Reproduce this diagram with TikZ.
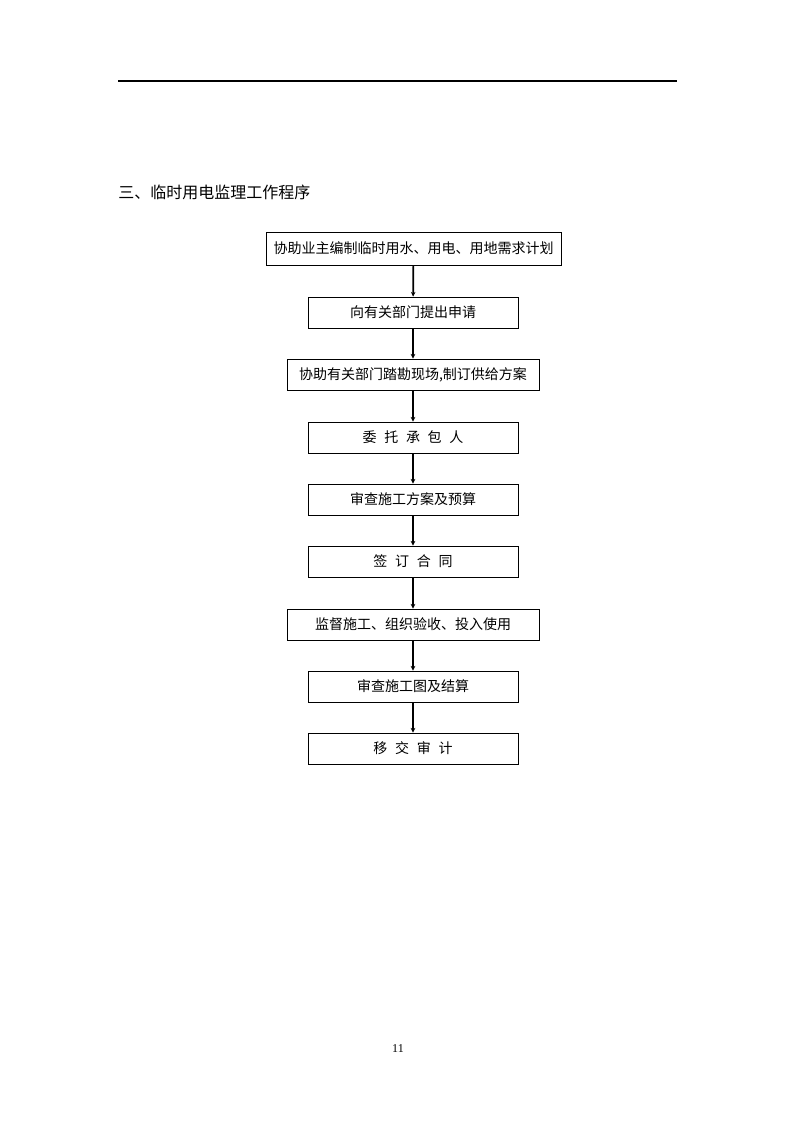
\documentclass[tikz,border=0pt]{standalone}
\usepackage{fontspec}
\setmainfont{Liberation Serif}
\newfontfamily\cjk{Noto Sans CJK SC}
\usetikzlibrary{arrows.meta, positioning}
\tikzset{
  stepbox/.style={draw, line width=0.7pt, rectangle, minimum width=157.5pt, minimum height=23.25pt, inner sep=0pt,
    font={\cjk\fontsize{10.5}{12}\selectfont\spaceskip=.55em\relax}},
  widebox/.style={stepbox, minimum width=189pt},
  flow/.style={-{Stealth[length=3.5pt, width=3.5pt]}, line width=1.3pt}
}

\begin{document}
\begin{tikzpicture}[x=0.75pt, y=-0.75pt]
  \useasboundingbox (0,0) rectangle (794,1123);
  % header rule and title
  \draw[line width=0.8pt] (118,81) -- (677,81);
  \node[anchor=west, inner sep=0pt, font={\cjk\fontsize{12}{14}\selectfont}] (title) at (118,192) {三、临时用电监理工作程序};

  % flow chart
  \node[stepbox, minimum width=221.25pt, minimum height=24.75pt] (plan) at (413.5,248.5) {协助业主编制临时用水、用电、用地需求计划};
  \node[stepbox] (apply) at (413,312.5) {向有关部门提出申请};
  \node[widebox] (survey) at (413,374.5) {协助有关部门踏勘现场,制订供给方案};
  \node[stepbox] (entrust) at (413,437.5) {委 托 承 包 人};
  \node[stepbox] (review) at (413,499.5) {审查施工方案及预算};
  \node[stepbox] (sign) at (413,561.5) {签 订 合 同};
  \node[widebox] (supervise) at (413,624.5) {监督施工、组织验收、投入使用};
  \node[stepbox] (settle) at (413,686.5) {审查施工图及结算};
  \node[stepbox] (audit) at (413,748.5) {移 交 审 计};

  \draw[flow] (plan) -- (apply);
  \draw[flow] (apply) -- (survey);
  \draw[flow] (survey) -- (entrust);
  \draw[flow] (entrust) -- (review);
  \draw[flow] (review) -- (sign);
  \draw[flow] (sign) -- (supervise);
  \draw[flow] (supervise) -- (settle);
  \draw[flow] (settle) -- (audit);

  % page number
  \node[font=\fontsize{9}{10}\selectfont] (pageno) at (398,1049) {11};
\end{tikzpicture}
\end{document}
